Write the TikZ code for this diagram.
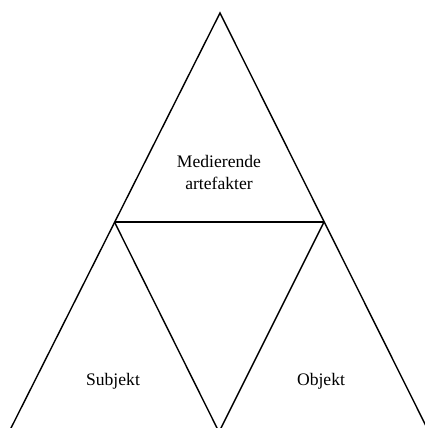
\documentclass[tikz,border=0pt]{standalone}
\usepackage{fontspec}
\setmainfont{Liberation Serif}
\begin{document}
\begin{tikzpicture}[x=1pt,y=-1pt,
  edge/.style={draw=black,line width=1.4pt},
  lbl/.style={font=\fontsize{17.6}{22}\selectfont,align=center,inner sep=0pt}]
\useasboundingbox (0,0) rectangle (425,428);
\clip (0,0) rectangle (425,428);
% vertices of the triangles
\coordinate (top) at (220,13);
\coordinate (ml) at (114.5,222);
\coordinate (mr) at (324,222);
\coordinate (bm) at (219,432);
\coordinate (bl) at (9,432);
\coordinate (br) at (429,432);
% outer triangle and inner inverted triangle
\draw[edge] (bl) -- (top) -- (br);
\draw[edge] (ml) -- (mr);
\draw[edge] (ml) -- (bm) -- (mr);
% labels
\node[lbl] (med) at (219,172) {Medierende\\artefakter};
\node[lbl] (sub) at (113,381) {Subjekt};
\node[lbl] (obj) at (321,381) {Objekt};
\end{tikzpicture}
\end{document}
